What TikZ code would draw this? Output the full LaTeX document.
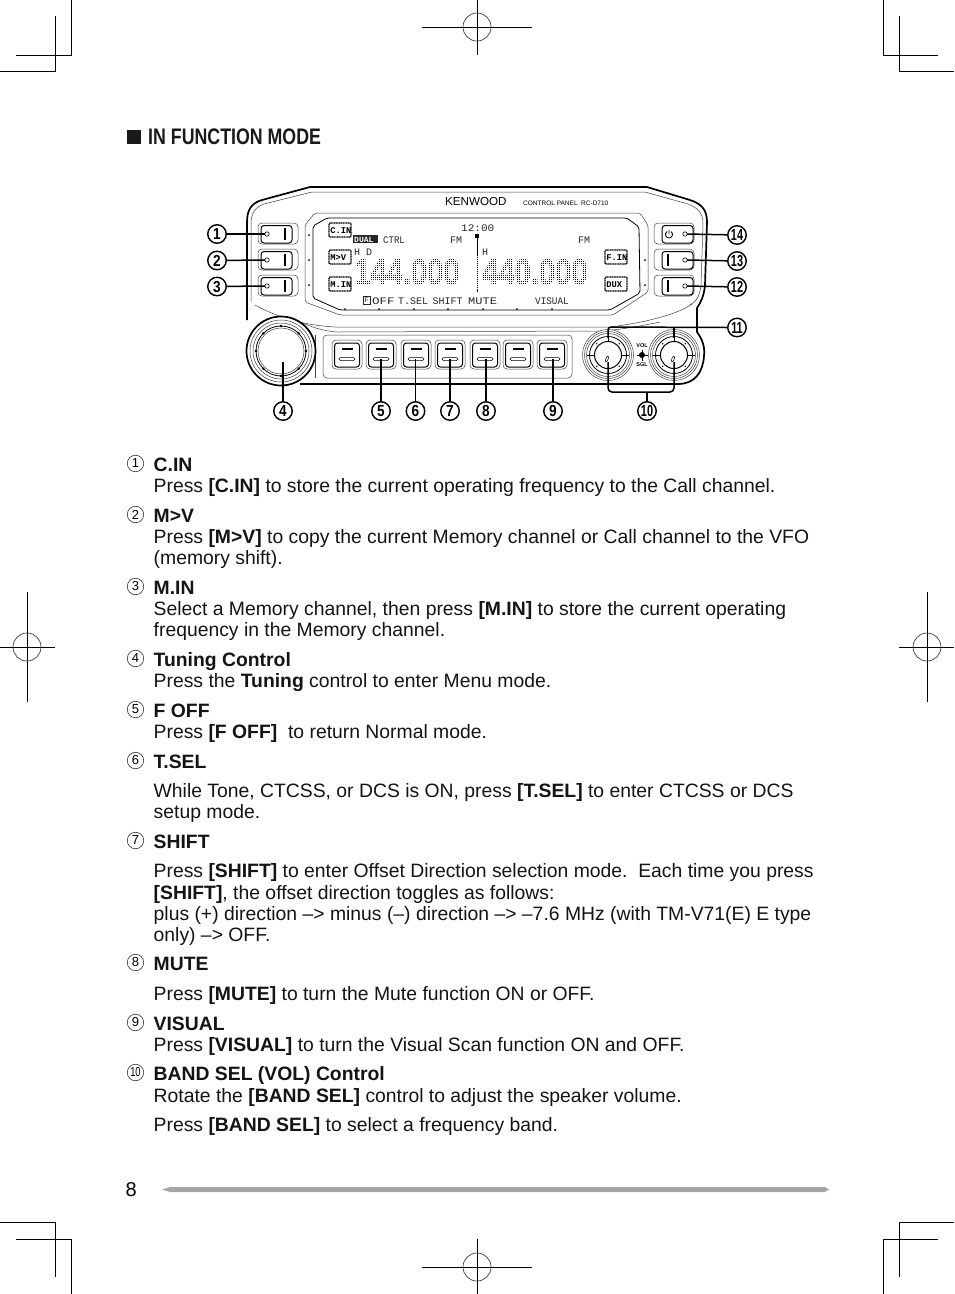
\documentclass[tikz,border=0pt]{standalone}
\usepackage{fontspec}
\setmainfont{Liberation Sans}
\newfontfamily\lcdfont{Liberation Mono}
\newfontfamily\bigdigits[FakeBold=1.6]{Liberation Sans Bold}
\usetikzlibrary{calc}
\newcounter{ln}
\newcommand\LL[2]{\stepcounter{ln}\node[bodytext] (line\theln) at (153.5,#1) {#2};}
\newcommand\LN[2]{\node[listnum] (ln#2) at (135.5,#1) {\ifnum#2>9 \scalebox{0.72}[1]{#2}\else #2\fi};}
\newcommand\BB[1]{\textbf{#1}}
\newcommand\CN[3]{\node[callnum] (c#1) at (#2,#3) {\ifnum#1>9 \scalebox{0.68}[1]{#1}\else \scalebox{0.85}[1]{#1}\fi};}
\tikzset{
  bodytext/.style={anchor=base west,inner sep=0pt,font=\fontsize{19.35}{21}\selectfont,text=black!92},
  listnum/.style={circle,draw=black!85,line width=0.55pt,inner sep=0pt,minimum size=16.5pt,font=\fontsize{13}{13}\selectfont},
  callnum/.style={circle,draw=black,line width=1.4pt,inner sep=0pt,minimum size=18.5pt,fill=white,font=\bfseries\fontsize{16}{16}\selectfont},
  crop/.style={line width=1pt,draw=black},
  lead/.style={line width=1.5pt,draw=black},
  shell/.style={line width=1.7pt,draw=black},
  thin line/.style={line width=0.5pt,draw=black!75},
  mid line/.style={line width=0.8pt,draw=black},
  lcdtext/.style={anchor=base west,inner sep=0pt,text=black!85,font=\lcdfont\fontsize{10}{10}\selectfont},
  outbtn/.style={line width=0.5pt,draw=black!75,rounded corners=4pt,fill=white},
  inbtn/.style={line width=1pt,draw=black,rounded corners=3pt,fill=white},
}
\begin{document}
\begin{tikzpicture}[x=1pt,y=-1pt,line cap=butt]
\useasboundingbox (0,0) rectangle (954,1294);
\fill[white] (0,0) rectangle (954,1294);
%% crop marks
\draw[crop] (71,0)--(71,55)--(16,55) (55,16)--(55,71)--(0,71);
\draw[crop] (883,0)--(883,55)--(938,55) (899,16)--(899,71)--(954,71);
\draw[crop] (0,1222)--(55,1222)--(55,1277) (16,1239)--(71,1239)--(71,1294);
\draw[crop] (954,1222)--(899,1222)--(899,1277) (938,1239)--(883,1239)--(883,1294);
\draw[crop] (422,27)--(532,27) (477,0)--(477,55);
\draw[crop,line width=.7pt,draw=black!75] (477,27) circle[radius=14pt];
\draw[crop] (422,1267)--(532,1267) (477,1239)--(477,1294);
\draw[crop,line width=.7pt,draw=black!75] (477,1267) circle[radius=14pt];
\draw[crop] (0,647)--(55,647) (27,592)--(27,702);
\draw[crop,line width=.7pt,draw=black!75] (27,647) circle[radius=14pt];
\draw[crop] (899,647)--(954,647) (927,592)--(927,702);
\draw[crop,line width=.7pt,draw=black!75] (927,647) circle[radius=14pt];
%% heading
\fill[black!90] (127,130) rectangle (140.5,143.5);
\node[anchor=base west,inner sep=0pt,font=\bfseries\fontsize{22.5}{22.5}\selectfont,text=black!90] (head) at (148,144.3) {\scalebox{0.79}[1]{IN FUNCTION MODE}};
%% device shell
\draw[shell,line join=round] (247,320)--(247,222) .. controls (247,209) and (252,203) .. (262,200) -- (310,187) -- (647,187) -- (690,200) .. controls (702,204) and (707,210) .. (707,222) -- (705,285) .. controls (704,296) and (701,302) .. (697,308) -- (697,332) .. controls (703,340) and (705,348) .. (704,356) .. controls (703,372) and (695,384) .. (678,384) -- (300,384);
\draw[thin line] (251,302)--(251,224) .. controls (251,212) and (256,207) .. (264,204) -- (312,192) -- (645,192) -- (688,204) .. controls (698,208) and (703,213) .. (703,224) -- (701,285) .. controls (700,296) and (696,302) .. (690,305);
%% upper panel lower edge
\draw[thin line] (255,305) .. controls (275,316) and (300,325) .. (335,327) -- (610,327) .. controls (650,322) and (680,313) .. (692,304);
\draw[thin line] (300,322) .. controls (312,327) and (322,331) .. (338,332) -- (600,331) .. controls (620,330) and (640,326) .. (660,322);
%% LCD
\draw[thin line,rounded corners=2pt] (315,213)--(640,213)--(648,225)--(648,292)--(613,315)--(340,315)--(305,302)--(305,225)--cycle;
\draw[mid line,rounded corners=2pt] (327,218)--(627,218)--(639,227)--(640,293)--(610,310)--(340,310)--(313,298)--(313,226)--cycle;
\foreach \y in {235,260,285} \fill (309,\y) circle[radius=1pt];
\foreach \y in {260,285} \fill (645,\y) circle[radius=1pt];
\foreach \x in {345,379,414,448,483,517,552} \fill (\x,309) circle[radius=1pt];
%% brand
\node[anchor=base west,inner sep=0pt,font=\fontsize{11.6}{11.6}\selectfont] (brand) at (445,205) {KENWOOD};
\node[anchor=base west,inner sep=0pt,font=\fontsize{6.5}{6.5}\selectfont] (model) at (523,205) {CONTROL PANEL\ \ RC-D710};
%% LCD labels
\node[lcdtext] (clock) at (461,231) {\scalebox{1.1}[1]{12:00}};
\node[lcdtext] (ctrl) at (383,243) {\scalebox{0.9}[1]{CTRL}};
\node[lcdtext] (fm1) at (450,243) {FM};
\node[lcdtext] (fm2) at (578,243) {FM};
\node[lcdtext] (hd) at (354,255) {H D};
\node[lcdtext] (hh) at (482,255) {H};
\fill[black!85] (353,235) rectangle (378,243);
\node[lcdtext,text=white,font=\lcdfont\bfseries\fontsize{8}{8}\selectfont] (nar) at (354,242) {DUAL};
\draw[black,line width=.8pt,dash pattern=on 2.5pt off .5pt] (477,236)--(477,292);
\fill (475,234) rectangle (479,238);
\node[anchor=base west,inner sep=0pt,font=\bigdigits\fontsize{36.5}{36.5}\selectfont,text=black] (f1) at (354,284.5) {\scalebox{0.8}[1]{144.000}};
\node[anchor=base west,inner sep=0pt,font=\bigdigits\fontsize{36.5}{36.5}\selectfont,text=black] (f2) at (482,284.5) {\scalebox{0.8}[1]{440.000}};
\foreach \x in {352,354,...,592} \draw[white,line width=.35pt] (\x,256)--(\x,287);
\foreach \y in {256,258,...,288} \draw[white,line width=.35pt] (352,\y)--(592,\y);
\draw[black!85,line width=.6pt] (363,296) rectangle (370,304);
\node[lcdtext,font=\lcdfont\fontsize{7}{7}\selectfont] (fkey) at (364.5,302.5) {F};
\node[lcdtext] (s1) at (372,304) {\scalebox{1.25}[1]{OFF}};
\node[lcdtext] (s2) at (398,304) {T.SEL};
\node[lcdtext] (s3) at (432.5,304) {SHIFT};
\node[lcdtext] (s4) at (468,304) {\scalebox{1.2}[1]{MUTE}};
\node[lcdtext] (s5) at (535,304) {\scalebox{.93}[1]{VISUAL}};
%% LCD icons
\foreach \n/\x/\y/\t in {a/329/223/C.IN,b/329/250/M>V,c/329/277/M.IN,d/605/250/F.IN,e/605/277/DUX}{
  \draw[black,line width=1.2pt,dash pattern=on 1.2pt off .5pt,rounded corners=1pt] (\x,\y) rectangle ++(22,14);
  \node[lcdtext,text=black,font=\lcdfont\bfseries\fontsize{8.8}{8.8}\selectfont] (icon\n) at (\x+1.2,\y+10.5) {\t};
}
%% left buttons
\foreach \n/\y in {1/234,2/260,3/286}{
  \draw[outbtn] (258,\y-11) rectangle (298,\y+10);
  \draw[inbtn] (261,\y-8.5) rectangle (292,\y+9);
  \draw[line width=1.6pt] (285,\y-6) -- (285,\y+6);
  \draw[line width=.6pt] (267,\y) circle[radius=2.2pt];
  \coordinate (lb\n) at (265,\y);
}
%% right buttons
\foreach \n/\y in {14/234,13/260,12/286}{
  \draw[outbtn] (654,\y-11) rectangle (694,\y+10);
  \draw[inbtn] (662,\y-8.5) rectangle (693,\y+9);
  \draw[line width=.6pt] (685,\y) circle[radius=2.2pt];
  \coordinate (rb\n) at (687,\y);
}
\draw[line width=1.6pt] (668,254)--(668,266) (668,280)--(668,292);
\draw[line width=.9pt] (669,230)--(669,234) (667,231.5) .. controls (664,234) and (666,238) .. (669,238) .. controls (672,238) and (674,234) .. (671,231.5);
%% front strip
\draw[thin line] (315,335)--(315,378);
\draw[thin line,rounded corners=4pt] (323,335) rectangle (572,378);
%% front buttons
\foreach \x in {347,381,416,450,485,518,552}{
  \draw[outbtn] (\x-15,340) rectangle (\x+15,369);
  \draw[inbtn] (\x-12.5,343) rectangle (\x+12.5,367);
  \draw[line width=1.4pt] (\x-5.5,349)--(\x+5.5,349);
  \draw[line width=.5pt,rounded corners=1.5pt] (\x-8,357.5) rectangle (\x+8,360.5);
}
%% tuning knob
\draw[line width=1.7pt,fill=white] (281,351) circle[radius=34.5pt];
\draw[thin line] (281,351) circle[radius=31pt];
\draw[thin line] (281,351) circle[radius=28pt];
\draw[line width=.8pt] (281,351) circle[radius=25pt];
\draw[thin line] (281,351) circle[radius=23pt];
\foreach \a in {0,45,...,315} \fill[shift={(281,351)}] (\a:25pt) circle[radius=1.3pt];
%% band knobs
\foreach \n/\x in {l/608,r/674}{
  \draw[thin line,fill=white] (\x,355) circle[radius=25.5pt];
  \draw[thin line] (\x,355) circle[radius=23.5pt];
  \draw[thin line] (\x,355) circle[radius=21.5pt];
  \draw[line width=.8pt] (\x,355) circle[radius=18.5pt];
  \draw[line width=1pt] (\x,355) circle[radius=13.5pt];
  \foreach \a in {0,90,180,270} \draw[shift={(\x,355)},line width=.6pt] (\a:13.5pt)--(\a:21pt);
  \foreach \a in {45,135,225,315} \fill[shift={(\x,355)}] (\a:16pt) circle[radius=.8pt];
  \draw[line width=.5pt,rotate around={-22:(\x-1,359)}] (\x-1,359) ellipse[x radius=1.2pt,y radius=3pt];
  \coordinate (top\n) at (\x,327);
  \coordinate (low\n) at (\x,362);
}
\fill (642,355) circle[radius=3pt];
\draw[line width=.5pt] (642,349.5)--(642,360.5) (636.5,355)--(647.5,355);
\node[inner sep=0pt,font=\bfseries\fontsize{5.5}{5.5}\selectfont] (vol) at (642,345.5) {VOL};
\node[inner sep=0pt,font=\bfseries\fontsize{5.5}{5.5}\selectfont] (sgl) at (642,365) {SGL};
%% callouts
\CN{1}{217}{234}\CN{2}{217}{260.5}\CN{3}{217}{286.5}
\CN{4}{283}{411}\CN{5}{381}{411}\CN{6}{415.5}{411}\CN{7}{450}{411}\CN{8}{486}{411}\CN{9}{553}{411}
\CN{10}{647}{411}\CN{11}{737}{327.5}\CN{12}{737}{287}\CN{13}{737}{261}\CN{14}{737}{235}
\draw[lead] (c1)--(lb1);
\draw[lead] (c2)--(lb2);
\draw[lead] (c3)--(lb3);
\coordinate (k4) at (283,362);
\coordinate (k5) at (381,359);
\coordinate (k6) at (415.5,359);
\coordinate (k7) at (450,359);
\coordinate (k8) at (486,359);
\coordinate (k9) at (553,359);
\draw[lead] (c4)--(k4);
\draw[lead] (c5)--(k5);
\draw[lead] (c6)--(k6);
\draw[lead] (c7)--(k7);
\draw[lead] (c8)--(k8);
\draw[lead] (c9)--(k9);
\draw[lead] (c14)--(rb14);
\draw[lead] (c13)--(rb13);
\draw[lead] (c12)--(rb12);
\draw[lead,rounded corners=3pt] (c11.west)--(topl)--($(topl)+(0,11)$);
\draw[lead] (topr)--($(topr)+(0,11)$);
\draw[lead,rounded corners=4pt] (lowl)--(608,392)--(674,392)--(lowr);
\draw[lead] (c10)--(647,392);
%% list
\LN{463.5}{1}\LL{471}{\BB{C.IN}}
\LL{492}{Press \BB{[C.IN]} to store the current operating frequency to the Call channel.}
\LN{514.5}{2}\LL{522}{\BB{M>V}}
\LL{543}{Press \BB{[M>V]} to copy the current Memory channel or Call channel to the VFO}
\LL{564}{(memory shift).}
\LN{586.5}{3}\LL{594}{\BB{M.IN}}
\LL{615}{Select a Memory channel, then press \BB{[M.IN]} to store the current operating}
\LL{636}{frequency in the Memory channel.}
\LN{658.5}{4}\LL{666}{\BB{Tuning Control}}
\LL{687}{Press the \BB{Tuning} control to enter Menu mode.}
\LN{709.5}{5}\LL{717}{\BB{F OFF}}
\LL{738}{Press \BB{[F OFF]}\ \ to return Normal mode.}
\LN{760.5}{6}\LL{768}{\BB{T.SEL}}
\LL{797}{While Tone, CTCSS, or DCS is ON, press \BB{[T.SEL]} to enter CTCSS or DCS}
\LL{818}{setup mode.}
\LN{840.5}{7}\LL{848}{\BB{SHIFT}}
\LL{877}{Press \BB{[SHIFT]} to enter Offset Direction selection mode.\ \ Each time you press}
\LL{899}{\BB{[SHIFT]}, the offset direction toggles as follows:}
\LL{920}{plus (+) direction –> minus (–) direction –> –7.6 MHz (with TM-V71(E) E type}
\LL{941}{only) –> OFF.}
\LN{962.5}{8}\LL{970}{\BB{MUTE}}
\LL{1000}{Press \BB{[MUTE]} to turn the Mute function ON or OFF.}
\LN{1022.5}{9}\LL{1030}{\BB{VISUAL}}
\LL{1051}{Press \BB{[VISUAL]} to turn the Visual Scan function ON and OFF.}
\LN{1072.5}{10}\LL{1080}{\BB{BAND SEL (VOL) Control}}
\LL{1102}{Rotate the \BB{[BAND SEL]} control to adjust the speaker volume.}
\LL{1131}{Press \BB{[BAND SEL]} to select a frequency band.}
%% footer
\node[anchor=base west,inner sep=0pt,font=\fontsize{20}{20}\selectfont] (page) at (125.5,1196) {8};
\fill[black!35] (162,1189.5) -- (170,1187) -- (825,1187) -- (829,1189.5) -- (825,1192) -- (170,1192) -- cycle;
\end{tikzpicture}
\end{document}
